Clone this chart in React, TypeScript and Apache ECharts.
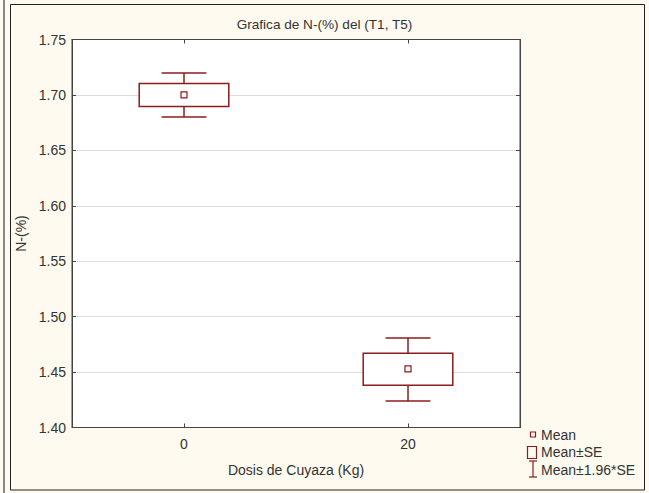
import React, { useEffect, useRef } from "react";
import * as echarts from "echarts";

const categories = ["0", "20"];
const means = [1.7, 1.4528];
const seLow = [1.6895, 1.4382];
const seHigh = [1.7102, 1.4669];
const ciLow = [1.6802, 1.4238];
const ciHigh = [1.7198, 1.4808];
const yMin = 1.4;
const yMax = 1.75;
const yStep = 0.05;

const RED = "#8c1c1c";
const TEXT = "#333333";
const FONT = "Liberation Sans, Arial, sans-serif";
const FS = 14;

export default function App() {
  const ref = useRef<HTMLDivElement>(null);
  useEffect(() => {
    if (!ref.current) return;
    const chart = echarts.init(ref.current, null, { renderer: "svg" });
    const idx = categories.map((_, i) => i);
    const option: any = {
      animation: false,
      backgroundColor: "#fffaef",
      textStyle: { fontFamily: FONT, color: TEXT },
      title: {
        text: "Grafica de N-(%) del (T1, T5)",
        left: "center",
        top: 12,
        textStyle: { fontFamily: FONT, fontSize: 13.6, fontWeight: "normal", color: TEXT },
      },
      grid: { left: 72, right: 129, top: 39.5, bottom: 65.5, show: true, backgroundColor: "#ffffff", borderColor: "#444", borderWidth: 1 },
      xAxis: [
        {
          type: "category",
          data: categories,
          boundaryGap: true,
          name: "Dosis de Cuyaza (Kg)",
          nameLocation: "middle",
          nameGap: 35,
          nameTextStyle: { fontFamily: FONT, fontSize: FS, color: TEXT },
          axisLine: { show: true, lineStyle: { color: "#444" } },
          axisTick: { show: true, inside: true, alignWithLabel: true, length: 4, lineStyle: { color: "#444" } },
          axisLabel: { margin: 9, fontFamily: FONT, fontSize: FS, color: TEXT },
          splitLine: { show: false },
        },
        {
          type: "category",
          data: categories,
          position: "top",
          boundaryGap: true,
          axisLine: { show: true, lineStyle: { color: "#444" } },
          axisTick: { show: true, inside: true, alignWithLabel: true, length: 4, lineStyle: { color: "#444" } },
          axisLabel: { show: false },
          splitLine: { show: false },
        },
      ],
      yAxis: [
        {
          type: "value",
          min: yMin,
          max: yMax,
          interval: yStep,
          name: "N-(%)",
          nameLocation: "middle",
          nameGap: 44,
          nameTextStyle: { fontFamily: FONT, fontSize: FS, color: TEXT },
          axisLine: { show: true, lineStyle: { color: "#444" } },
          axisTick: { show: true, inside: true, length: 4, lineStyle: { color: "#444" } },
          axisLabel: { margin: 6, fontFamily: FONT, fontSize: FS, color: TEXT, formatter: (v: number) => v.toFixed(2) },
          splitLine: { show: true, lineStyle: { color: "#dddddd", width: 1 } },
        },
        {
          type: "value",
          min: yMin,
          max: yMax,
          interval: yStep,
          position: "right",
          axisLine: { show: true, lineStyle: { color: "#444" } },
          axisTick: { show: true, inside: true, length: 4, lineStyle: { color: "#444" } },
          axisLabel: { show: false },
          splitLine: { show: false },
        },
      ],
      series: [
        {
          name: "Mean±1.96*SE",
          type: "custom",
          xAxisIndex: 0,
          yAxisIndex: 0,
          data: idx.map((i) => [i, ciLow[i], seLow[i], seHigh[i], ciHigh[i]]),
          encode: { x: 0, y: [1, 4] },
          renderItem: (params: any, api: any) => {
            const x = api.value(0);
            const pLo = api.coord([x, api.value(1)]);
            const pSeLo = api.coord([x, api.value(2)]);
            const pSeHi = api.coord([x, api.value(3)]);
            const pHi = api.coord([x, api.value(4)]);
            const cw = api.size([1, 0])[0] * 0.2;
            const st = { stroke: RED, lineWidth: 1.5 };
            return {
              type: "group",
              children: [
                { type: "line", shape: { x1: pHi[0], y1: pHi[1], x2: pSeHi[0], y2: pSeHi[1] }, style: st },
                { type: "line", shape: { x1: pLo[0], y1: pLo[1], x2: pSeLo[0], y2: pSeLo[1] }, style: st },
                { type: "line", shape: { x1: pHi[0] - cw / 2, y1: pHi[1], x2: pHi[0] + cw / 2, y2: pHi[1] }, style: st },
                { type: "line", shape: { x1: pLo[0] - cw / 2, y1: pLo[1], x2: pLo[0] + cw / 2, y2: pLo[1] }, style: st },
              ],
            };
          },
        },
        {
          name: "Mean±SE",
          type: "custom",
          xAxisIndex: 0,
          yAxisIndex: 0,
          data: idx.map((i) => [i, seLow[i], seHigh[i]]),
          encode: { x: 0, y: [1, 2] },
          renderItem: (params: any, api: any) => {
            const x = api.value(0);
            const lo = api.coord([x, api.value(1)]);
            const hi = api.coord([x, api.value(2)]);
            const w = api.size([1, 0])[0] * 0.4;
            return {
              type: "rect",
              shape: { x: hi[0] - w / 2, y: hi[1], width: w, height: lo[1] - hi[1] },
              style: { fill: "#ffffff", stroke: RED, lineWidth: 1.5 },
            };
          },
        },
        {
          name: "Mean",
          type: "custom",
          xAxisIndex: 0,
          yAxisIndex: 0,
          data: idx.map((i) => [i, means[i]]),
          encode: { x: 0, y: 1 },
          renderItem: (params: any, api: any) => {
            const p = api.coord([api.value(0), api.value(1)]);
            return {
              type: "rect",
              shape: { x: p[0] - 3, y: p[1] - 3, width: 6, height: 6 },
              style: { fill: "#ffffff", stroke: RED, lineWidth: 1.2 },
            };
          },
        },
      ],
      graphic: [
        { type: "line", shape: { x1: 4, y1: 0, x2: 4, y2: 493 }, style: { stroke: "#888", lineWidth: 2 }, silent: true },
        { type: "rect", shape: { x: 10.5, y: 4.5, width: 634, height: 485.5 }, style: { fill: "transparent", stroke: "#222", lineWidth: 1 }, silent: true },
        { type: "rect", shape: { x: 530.5, y: 432, width: 5, height: 5 }, style: { fill: "transparent", stroke: RED, lineWidth: 1.2 } },
        { type: "text", x: 541, y: 435, style: { text: "Mean", font: `${FS}px ${FONT}`, fill: TEXT, verticalAlign: "middle", align: "left" } },
        { type: "rect", shape: { x: 527.5, y: 446.5, width: 9, height: 12 }, style: { fill: "transparent", stroke: RED, lineWidth: 1.2 } },
        { type: "text", x: 541, y: 452, style: { text: "Mean±SE", font: `${FS}px ${FONT}`, fill: TEXT, verticalAlign: "middle", align: "left" } },
        { type: "line", shape: { x1: 533, y1: 461, x2: 533, y2: 477 }, style: { stroke: RED, lineWidth: 1.2 } },
        { type: "line", shape: { x1: 529, y1: 461, x2: 537, y2: 461 }, style: { stroke: RED, lineWidth: 1.2 } },
        { type: "line", shape: { x1: 529, y1: 477, x2: 537, y2: 477 }, style: { stroke: RED, lineWidth: 1.2 } },
        { type: "text", x: 541, y: 470, style: { text: "Mean±1.96*SE", font: `${FS}px ${FONT}`, fill: TEXT, verticalAlign: "middle", align: "left" } },
      ],
    };
    chart.setOption(option);
    return () => chart.dispose();
  }, []);
  return <div ref={ref} style={{ position: "fixed", left: 0, top: 0, width: 649, height: 493 }} />;
}
